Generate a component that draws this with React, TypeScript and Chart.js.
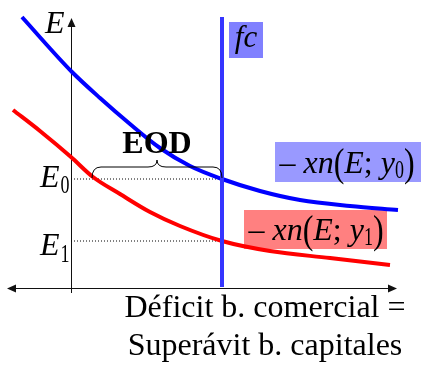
import React, { useEffect, useRef } from "react";
import { Chart, registerables } from "chart.js";

Chart.register(...registerables);

// Curve samples (origin = axes crossing)
const blueX = [-49, -25, 1, 29, 59, 89, 119, 151, 189, 229, 279, 327];
const blueY = [271, 244, 216, 190, 164, 140, 122, 109, 97, 88, 82, 78];
const redX = [-58, -31, 0, 22, 49, 79, 109, 151, 199, 259, 319];
const redY = [178, 157, 131, 111, 94, 76, 62, 47, 37, 30, 23];

const fcX = 151;
const fcBottom = 1;
const fcTop = 271;
const E0 = 109;
const E1 = 47;
const eodStart = 21;

const xMin = -71;
const xMax = 350;
const yMin = -77;
const yMax = 288;

const bottomLine1 = "Déficit b. comercial =";
const bottomLine2 = "Superávit b. capitales";

const SERIF = '"Liberation Serif", "Times New Roman", Tinos, "DejaVu Serif", serif';

function pts(xs: number[], ys: number[]) {
  return xs.map((x, i) => ({ x, y: ys[i] }));
}

function seg(
  ctx: CanvasRenderingContext2D,
  text: string,
  x: number,
  y: number,
  font: string,
  sy = 1
) {
  ctx.save();
  ctx.font = font;
  ctx.translate(x, y);
  ctx.scale(1, sy);
  ctx.fillText(text, 0, 0);
  const w = ctx.measureText(text).width;
  ctx.restore();
  return w;
}

type Part = { t: string; f: string; sy?: number; dy?: number };

function drawParts(
  ctx: CanvasRenderingContext2D,
  parts: Part[],
  cx: number,
  base: number
) {
  let total = 0;
  for (const p of parts) {
    ctx.font = p.f;
    total += ctx.measureText(p.t).width;
  }
  let x = cx - total / 2;
  for (const p of parts) {
    x += seg(ctx, p.t, x, base + (p.dy || 0), p.f, p.sy || 1);
  }
}

function xnParts(sub: string): Part[] {
  const n = `32px ${SERIF}`;
  const it = `italic 32px ${SERIF}`;
  const sb = `18px ${SERIF}`;
  return [
    { t: "– ", f: n },
    { t: "xn", f: it },
    { t: "(", f: n, sy: 1.25, dy: 3 },
    { t: "E", f: it },
    { t: "; ", f: n },
    { t: "y", f: it },
    { t: sub, f: sb, sy: 1.45, dy: 5 },
    { t: ")", f: n, sy: 1.25, dy: 3 },
  ];
}

export default function App() {
  const ref = useRef<HTMLCanvasElement>(null);

  useEffect(() => {
    const canvas = ref.current;
    if (!canvas) return;
    let chart: Chart | null = null;
    let cancelled = false;

    const annot = {
      id: "annot",
      beforeDatasetsDraw(chart: any) {
        const { ctx, scales } = chart;
        const X = (v: number) => scales.x.getPixelForValue(v);
        const Y = (v: number) => scales.y.getPixelForValue(v);
        ctx.save();
        // label boxes
        ctx.fillStyle = "#8080ff";
        ctx.fillRect(X(158), Y(266), X(192) - X(158), Y(230) - Y(266));
        ctx.fillStyle = "#9999ff";
        ctx.fillRect(X(204), Y(146), X(350) - X(204), Y(106) - Y(146));
        ctx.fillStyle = "#ff8080";
        ctx.fillRect(X(173), Y(78), X(316) - X(173), Y(39) - Y(78));

        // axes
        ctx.strokeStyle = "#111";
        ctx.fillStyle = "#111";
        ctx.lineWidth = 1;
        const ox = Math.round(X(0)) + 0.5;
        const oy = Math.round(Y(0)) + 0.5;
        ctx.beginPath();
        ctx.moveTo(ox, Y(-5));
        ctx.lineTo(ox, Y(262));
        ctx.stroke();
        ctx.beginPath();
        ctx.moveTo(ox, Y(270));
        ctx.lineTo(ox - 4, Y(261));
        ctx.lineTo(ox + 4, Y(261));
        ctx.closePath();
        ctx.fill();

        ctx.beginPath();
        ctx.moveTo(X(-56), oy);
        ctx.lineTo(X(318), oy);
        ctx.stroke();
        ctx.beginPath();
        ctx.moveTo(X(-64), oy);
        ctx.lineTo(X(-55), oy - 4);
        ctx.lineTo(X(-55), oy + 4);
        ctx.closePath();
        ctx.fill();
        ctx.beginPath();
        ctx.moveTo(X(326), oy);
        ctx.lineTo(X(317), oy - 4);
        ctx.lineTo(X(317), oy + 4);
        ctx.closePath();
        ctx.fill();
        ctx.restore();
      },
      afterDatasetsDraw(chart: any) {
        const { ctx, scales } = chart;
        const X = (v: number) => scales.x.getPixelForValue(v);
        const Y = (v: number) => scales.y.getPixelForValue(v);
        ctx.save();
        ctx.fillStyle = "#000";
        ctx.textBaseline = "alphabetic";
        ctx.textAlign = "left";

        // brace over the EOD segment
        const x0 = X(eodStart);
        const x1 = X(fcX);
        const xc = (x0 + x1) / 2;
        const yb = Y(E0 + 1);
        const yf = Y(E0 + 12);
        const yp = Y(E0 + 19);
        const r = 9;
        ctx.strokeStyle = "#000";
        ctx.lineWidth = 1;
        ctx.beginPath();
        ctx.moveTo(x0, yb);
        ctx.quadraticCurveTo(x0, yf, x0 + r, yf);
        ctx.lineTo(xc - r, yf);
        ctx.quadraticCurveTo(xc, yf, xc, yp);
        ctx.quadraticCurveTo(xc, yf, xc + r, yf);
        ctx.lineTo(x1 - r, yf);
        ctx.quadraticCurveTo(x1, yf, x1, yb);
        ctx.stroke();

        // EOD
        ctx.textAlign = "center";
        ctx.font = `bold 32px ${SERIF}`;
        ctx.fillText("EOD", xc, Y(135));
        ctx.textAlign = "left";

        // axis label E
        seg(ctx, "E", X(-26), Y(255), `italic 32px ${SERIF}`);
        // E0, E1
        let w = seg(ctx, "E", X(-31), Y(E0 - 8), `italic 32px ${SERIF}`);
        seg(ctx, "0", X(-31) + w + 1, Y(E0 - 14), `18px ${SERIF}`, 1.45);
        w = seg(ctx, "E", X(-31), Y(E1 - 14), `italic 32px ${SERIF}`);
        seg(ctx, "1", X(-31) + w + 1, Y(E1 - 21), `18px ${SERIF}`, 1.45);

        // fc
        ctx.textAlign = "center";
        ctx.font = `italic 31px ${SERIF}`;
        ctx.fillText("fc", X(175), Y(241));
        ctx.textAlign = "left";

        // curve labels
        drawParts(ctx, xnParts("0"), X(276), Y(115));
        drawParts(ctx, xnParts("1"), X(245), Y(48));

        // bottom caption
        ctx.textAlign = "center";
        ctx.font = `32px ${SERIF}`;
        ctx.fillText(bottomLine1, X(194), Y(-29));
        ctx.fillText(bottomLine2, X(194), Y(-67));
        ctx.restore();
      },
    };

    const build = () => {
      if (cancelled) return;
      chart = new Chart(canvas, {
        type: "scatter",
        data: {
          datasets: [
            {
              data: [
                { x: fcX, y: fcBottom },
                { x: fcX, y: fcTop },
              ],
              showLine: true,
              borderColor: "#3535ff",
              borderWidth: 4,
              pointRadius: 0,
            },
            {
              data: pts(blueX, blueY),
              showLine: true,
              borderColor: "#0000ff",
              borderWidth: 4,
              pointRadius: 0,
              cubicInterpolationMode: "monotone",
            },
            {
              data: pts(redX, redY),
              showLine: true,
              borderColor: "#ff0000",
              borderWidth: 4,
              pointRadius: 0,
              cubicInterpolationMode: "monotone",
            },
            {
              data: [
                { x: 0, y: E0 },
                { x: fcX, y: E0 },
              ],
              showLine: true,
              borderColor: "#000",
              borderWidth: 1,
              borderDash: [1, 2],
              pointRadius: 0,
            },
            {
              data: [
                { x: 0, y: E1 },
                { x: fcX, y: E1 },
              ],
              showLine: true,
              borderColor: "#000",
              borderWidth: 1,
              borderDash: [1, 2],
              pointRadius: 0,
            },
          ] as any,
        },
        options: {
          animation: false,
          responsive: false,
          devicePixelRatio: 1,
          events: [],
          layout: { padding: 0 },
          plugins: {
            legend: { display: false },
            tooltip: { enabled: false },
          },
          scales: {
            x: { type: "linear", min: xMin, max: xMax, display: false },
            y: { type: "linear", min: yMin, max: yMax, display: false },
          },
        },
        plugins: [annot],
      });
    };

    const fonts: any = (document as any).fonts;
    if (fonts && fonts.load) {
      Promise.all([
        fonts.load(`32px "Liberation Serif"`),
        fonts.load(`italic 32px "Liberation Serif"`),
        fonts.load(`bold 32px "Liberation Serif"`),
      ])
        .catch(() => null)
        .then(build);
    } else {
      build();
    }
    return () => {
      cancelled = true;
      if (chart) chart.destroy();
    };
  }, []);

  return (
    <div
      style={{
        position: "absolute",
        left: 0,
        top: 0,
        width: 421,
        height: 365,
        background: "#fff",
      }}
    >
      <span
        style={{
          position: "absolute",
          left: -9999,
          top: 0,
          fontFamily: SERIF,
          fontSize: 32,
        }}
      >
        <i>E</i>
        <b>E</b>E
      </span>
      <canvas ref={ref} width={421} height={365} style={{ display: "block" }} />
    </div>
  );
}
